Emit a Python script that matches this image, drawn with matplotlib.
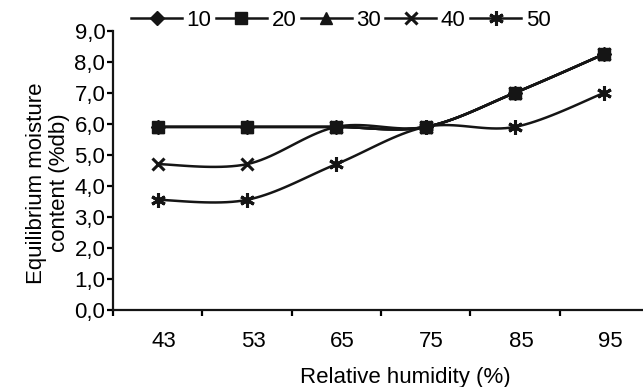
import numpy as np
import matplotlib
matplotlib.use("Agg")
import matplotlib.pyplot as plt
import matplotlib.transforms as mtransforms
from matplotlib.lines import Line2D

plt.rcParams['font.family'] = ['Liberation Sans', 'DejaVu Sans']

categories = ["43", "53", "65", "75", "85", "95"]
series_names = ["10", "20", "30", "40", "50"]
s10 = [5.9, 5.9, 5.9, 5.9, 7.0, 8.25]
s20 = [5.9, 5.9, 5.9, 5.9, 7.0, 8.25]
s30 = [5.9, 5.9, 5.9, 5.9, 7.0, 8.25]
s40 = [4.7, 4.7, 5.9, 5.9, 7.0, 8.25]
s50 = [3.55, 3.55, 4.7, 5.9, 5.9, 7.0]
yticks = [0, 1, 2, 3, 4, 5, 6, 7, 8, 9]

markers = ["D", "s", "^", "x", (6, 2, 0)]
msizes = [7.5, 8, 8.5, 9, 10.5]
FS = 16

W, H = 643, 387
fig = plt.figure(figsize=(W / 100, H / 100), dpi=100)
ax = fig.add_axes([113 / W, 77 / H, 536 / W, (310 - 30.7) / H])


def smooth(x, y, n=20):
    # Catmull-Rom style smoothing (as in spreadsheet "smoothed line")
    x = np.asarray(x, float)
    y = np.asarray(y, float)
    px = np.concatenate([[x[0]], x, [x[-1]]])
    py = np.concatenate([[y[0]], y, [y[-1]]])
    xs, ys = [], []
    t = np.linspace(0, 1, n)
    for i in range(1, len(px) - 2):
        p0, p1, p2, p3 = (np.array([px[j], py[j]]) for j in (i - 1, i, i + 1, i + 2))
        c1 = p1 + (p2 - p0) / 6
        c2 = p2 - (p3 - p1) / 6
        pts = ((1 - t) ** 3)[:, None] * p1 + (3 * (1 - t) ** 2 * t)[:, None] * c1 \
            + (3 * (1 - t) * t ** 2)[:, None] * c2 + (t ** 3)[:, None] * p2
        xs.extend(pts[:, 0])
        ys.extend(pts[:, 1])
    return np.array(xs), np.array(ys)


def mew(m):
    return 2.2 if m in ("x", (6, 2, 0)) else 1


xpos = np.arange(len(categories))
all_series = [s10, s20, s30, s40, s50]
for vals, m, ms in zip(all_series, markers, msizes):
    sx, sy = smooth(xpos, vals)
    ax.plot(sx, sy, color="#151515", lw=1.8, solid_capstyle="round", zorder=2)
    ax.plot(xpos, vals, linestyle="none", marker=m, ms=ms, color="#151515",
            markeredgewidth=mew(m), zorder=3)

ax.set_xlim(-0.5, 5.5)
ax.set_ylim(0, 9)
ax.set_yticks(yticks)
ax.set_yticklabels([f"{v:.1f}".replace(".", ",") for v in yticks], fontsize=FS)
ax.set_xticks(xpos)
ax.set_xticklabels(categories, fontsize=FS)
ax.set_xticks(np.arange(-0.5, 5.6, 1.0), minor=True)
ax.tick_params(axis="x", which="major", length=0, pad=15)
ax.tick_params(axis="x", which="minor", length=4, width=1.6, direction="out")
ax.tick_params(axis="y", length=4, width=1.6, direction="out", pad=1.5)
offset = mtransforms.ScaledTranslation(6 / 100, 0, fig.dpi_scale_trans)
for lab in ax.get_xticklabels():
    lab.set_transform(lab.get_transform() + offset)

for s in ("top", "right"):
    ax.spines[s].set_visible(False)
for s in ("left", "bottom"):
    ax.spines[s].set_linewidth(1.6)
    ax.spines[s].set_color("#151515")

fig.text(405 / W, 1 - 378 / H, "Relative humidity (%)", ha="center", va="center",
         fontsize=FS)
fig.text(48 / W, 1 - 183 / H, "Equilibrium moisture\ncontent (%db)", rotation=90,
         ha="center", va="center", fontsize=FS, linespacing=1.12)

handles = [Line2D([], [], color="#151515", lw=1.8, marker=m, ms=ms,
                  markeredgewidth=mew(m))
           for m, ms in zip(markers, msizes)]
fig.legend(handles, series_names, ncol=5, loc="center left",
           bbox_to_anchor=(131 / W, 1 - 20 / H), frameon=False, fontsize=FS,
           handlelength=2.3, handletextpad=0.2, columnspacing=0.2,
           borderaxespad=0, borderpad=0)

fig.savefig("out.png", dpi=100)
